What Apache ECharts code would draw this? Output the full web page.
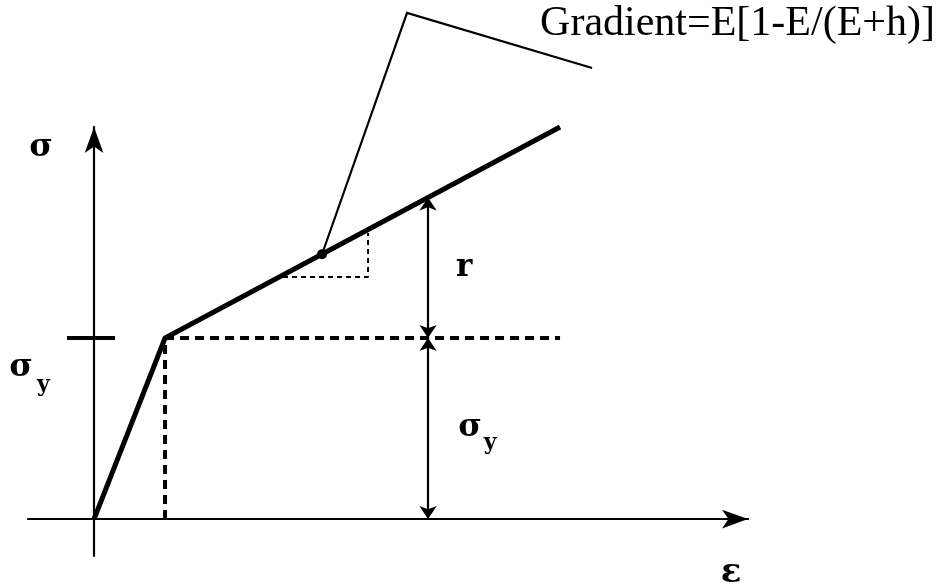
<!DOCTYPE html>
<html>
<head>
<meta charset="utf-8">
<title>Bilinear hardening</title>
<script src="https://cdn.jsdelivr.net/npm/echarts@6/dist/echarts.min.js"></script>
<style>
  html, body { margin: 0; padding: 0; background: #ffffff; }
  #chart { width: 938px; height: 588px; }
</style>
</head>
<body>
<div id="chart"></div>
<script>
// Bilinear stress–strain law: elastic branch up to yield, then linear hardening.
// Units: strain in multiples of yield strain, stress in multiples of yield stress.
const curveStrain = [0, 1, 6.563];
const curveStress = [0, 1, 2.166];

const yieldStrain = 1;
const yieldStress = 1;
const dashedEndStrain = 6.563;

// Axis extents (arrowed axes)
const strainAxisRange = [-0.93, 9.21];
const stressAxisRange = [-0.204, 2.166];

// Tick marking the yield stress on the stress axis
const yieldTickStrain = [-0.38, 0.296];

// Dimension arrows: r (hardening increment) and sigma_y
const dimStrain = 4.704;
const dimStress = [0, 1, 1.776];

// Slope triangle on the hardening branch
const triStrain = [2.662, 3.859, 3.859];
const triStress = [1.337, 1.337, 1.58];

// Leader from the marked point to the gradient note
const leaderStrain = [3.211, 4.408, 7.014];
const leaderStress = [1.463, 2.796, 2.492];

// Annotation texts and their anchors
const noteTexts = ['σ', 'σ', 'y', 'r', 'σ', 'y', 'ε', 'Gradient=E[1-E/(E+h)]'];
const noteStrain = [-0.746, -1.028, -0.712, 5.211, 5.296, 5.577, 8.972, 6.282];
const noteStress = [2.050, 0.835, 0.740, 1.390, 0.505, 0.420, -0.298, 2.735];

const SYMBOL_FONT = '"DejaVu Serif", "Liberation Serif", serif';
const TEXT_FONT = '"Liberation Serif", "DejaVu Serif", serif';
const noteFamily = [SYMBOL_FONT, SYMBOL_FONT, SYMBOL_FONT, SYMBOL_FONT, SYMBOL_FONT, SYMBOL_FONT, SYMBOL_FONT, TEXT_FONT];
const noteWeight = ['bold', 'bold', 'bold', 'bold', 'bold', 'bold', 'bold', 'normal'];
const noteFont = [32, 32, 22, 31, 32, 22, 34, 42];
const noteAlign = ['center', 'center', 'center', 'center', 'center', 'center', 'center', 'left'];

const pts = (xs, ys) => xs.map((x, i) => [x, ys[i]]);

const chart = echarts.init(document.getElementById('chart'), null, { renderer: 'canvas' });

const black = '#000000';

const option = {
  backgroundColor: '#ffffff',
  animation: false,
  grid: { left: 28, right: 190, top: 127, bottom: 32, containLabel: false },
  xAxis: {
    type: 'value',
    min: strainAxisRange[0],
    max: strainAxisRange[1],
    axisLine: {
      show: true, onZero: true,
      symbol: ['none', 'arrow'], symbolSize: [14, 26], symbolOffset: [0, 0],
      lineStyle: { color: black, width: 2.2 }
    },
    axisTick: { show: false },
    axisLabel: { show: false },
    splitLine: { show: false }
  },
  yAxis: {
    type: 'value',
    min: stressAxisRange[0],
    max: stressAxisRange[1],
    axisLine: {
      show: true, onZero: true,
      symbol: ['none', 'arrow'], symbolSize: [14, 26], symbolOffset: [0, 0],
      lineStyle: { color: black, width: 2.2 }
    },
    axisTick: { show: false },
    axisLabel: { show: false },
    splitLine: { show: false }
  },
  series: [
    {
      name: 'yield projection (strain)',
      type: 'line',
      clip: false,
      symbol: 'none',
      data: [[yieldStrain, 0], [yieldStrain, yieldStress]],
      lineStyle: { color: black, width: 4, type: [9, 6] },
      z: 3
    },
    {
      name: 'yield level',
      type: 'line',
      clip: false,
      symbol: 'none',
      data: [[yieldStrain, yieldStress], [dashedEndStrain, yieldStress]],
      lineStyle: { color: black, width: 4, type: [9, 6] },
      z: 3
    },
    {
      name: 'slope triangle',
      type: 'line',
      clip: false,
      symbol: 'none',
      data: pts(triStrain, triStress),
      lineStyle: { color: black, width: 2, type: [5, 4] },
      z: 3
    },
    {
      name: 'stress-strain',
      type: 'line',
      clip: false,
      symbol: 'none',
      data: pts(curveStrain, curveStress),
      lineStyle: { color: black, width: 5, join: 'miter' },
      z: 5
    },
    {
      name: 'yield tick',
      type: 'line',
      clip: false,
      symbol: 'none',
      data: yieldTickStrain.map(x => [x, yieldStress]),
      lineStyle: { color: black, width: 4 },
      z: 4
    },
    {
      name: 'leader',
      type: 'line',
      clip: false,
      symbol: 'none',
      data: pts(leaderStrain, leaderStress),
      lineStyle: { color: black, width: 2.2, join: 'miter' },
      z: 4
    },
    {
      name: 'marked point',
      type: 'scatter',
      clip: false,
      symbol: 'circle',
      symbolSize: 10,
      itemStyle: { color: black, opacity: 1 },
      data: [[leaderStrain[0], leaderStress[0]]],
      z: 6
    },
    {
      name: 'dimensions',
      type: 'lines',
      coordinateSystem: 'cartesian2d',
      clip: false,
      symbol: ['arrow', 'arrow'],
      symbolSize: 13,
      lineStyle: { color: black, width: 2.2, opacity: 1, curveness: 0 },
      data: [
        { coords: [[dimStrain, dimStress[1]], [dimStrain, dimStress[2]]] },
        { coords: [[dimStrain, dimStress[1]], [dimStrain, dimStress[0]]] }
      ],
      z: 4
    },
    {
      name: 'notes',
      type: 'scatter',
      clip: false,
      symbolSize: 0,
      silent: true,
      itemStyle: { opacity: 1 },
      data: noteTexts.map((t, i) => ({
        value: [noteStrain[i], noteStress[i]],
        label: {
          show: true,
          position: 'inside',
          formatter: () => t,
          fontFamily: noteFamily[i],
          fontWeight: noteWeight[i],
          fontSize: noteFont[i],
          color: black,
          opacity: 1,
          align: noteAlign[i],
          verticalAlign: 'middle'
        }
      })),
      z: 7
    }
  ]
};

chart.setOption(option);
</script>
</body>
</html>
